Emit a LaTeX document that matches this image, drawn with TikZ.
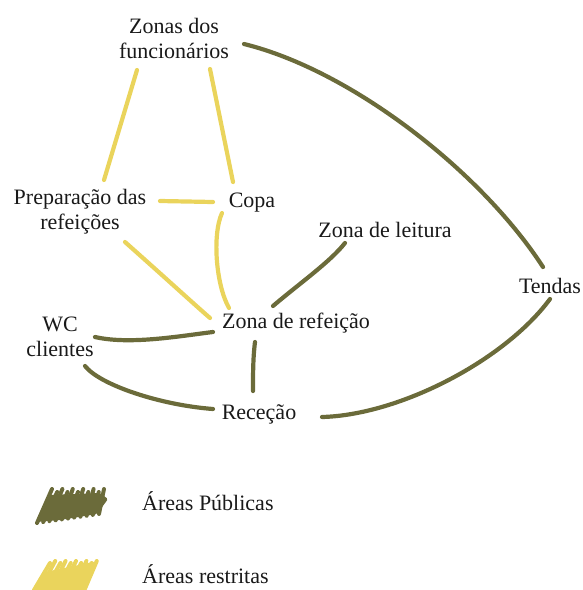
\documentclass[tikz,border=0pt]{standalone}
\usepackage{fontspec}
\setmainfont{Liberation Serif}
\usetikzlibrary{calc}
\definecolor{pub}{RGB}{107,107,58}
\definecolor{res}{RGB}{234,212,92}
\tikzset{
  lbl/.style={inner sep=0pt, font=\fontsize{22}{25}\selectfont, text=black!90},
  publine/.style={draw=pub, line width=4.2pt, line cap=round},
  resline/.style={draw=res, line width=4.2pt, line cap=round},
  scrib/.style={line width=4pt, line cap=round},
}
\begin{document}
\begin{tikzpicture}[x=1pt,y=-1pt]
\useasboundingbox (0,0) rectangle (582,590);
% nodes
\node[lbl, align=center] (zonas) at (174,38) {Zonas dos\\funcionários};
\node[lbl, align=center] (prep) at (80,212) {Preparação das\\refeições};
\node[lbl, anchor=base] (copa) at (252,207) {Copa};
\node[lbl, anchor=base] (leit) at (385,237) {Zona de leitura};
\node[lbl, anchor=base] (tend) at (550,293) {Tendas};
\node[lbl, anchor=base] (refe) at (296,328) {Zona de refeição};
\node[lbl, align=center] (wc) at (60,337) {WC\\clientes};
\node[lbl, anchor=base] (rece) at (259,419) {Receção};
\node[lbl, anchor=base west] (lpub) at (142,510) {Áreas Públicas};
\node[lbl, anchor=base west] (lres) at (142,583) {Áreas restritas};
% restricted connectors
\draw[resline] ($(zonas)+(-37,32)$) -- ($(prep)+(24,-32)$);
\draw[resline] ($(zonas)+(36,31)$) -- ($(copa.base)+(-19,-25)$);
\draw[resline] ($(prep)+(80,-11)$) -- ($(copa.base)+(-39,-5)$);
\draw[resline] ($(copa.base)+(-30,6)$) .. controls ($(copa.base)+(-40,28)$) and ($(refe.base)+(-80,-43)$) .. ($(refe.base)+(-67,-20)$);
\draw[resline] ($(prep)+(45,30)$) .. controls ($(prep)+(90,70)$) and ($(refe.base)+(-101,-23)$) .. ($(refe.base)+(-86,-10)$);
% public connectors
\draw[publine] ($(zonas)+(70,6)$) .. controls (350,70) and (480,170) .. ($(tend.base)+(-7,-26)$);
\draw[publine] ($(leit.base)+(-40,6)$) .. controls ($(leit.base)+(-55,25)$) and ($(refe.base)+(4,-45)$) .. ($(refe.base)+(-23,-22)$);
\draw[publine] ($(tend.base)+(0,6)$) .. controls (505,360) and (400,415) .. ($(rece.base)+(63,-2)$);
\draw[publine] ($(wc)+(35,0)$) .. controls ($(wc)+(70,8)$) and ($(refe.base)+(-116,8)$) .. ($(refe.base)+(-83,4)$);
\draw[publine] ($(wc)+(25,29)$) .. controls ($(wc)+(40,48)$) and ($(rece.base)+(-99,-14)$) .. ($(rece.base)+(-46,-10)$);
\draw[publine] ($(refe.base)+(-41,14)$) .. controls ($(refe.base)+(-43,30)$) and ($(rece.base)+(-6,-45)$) .. ($(rece.base)+(-6,-28)$);
% legend swatches (scribbles)
\fill[pub, rounded corners=1.5pt] (37,522) -- (50,495) -- (100,493) -- (108,499) -- (97,514) -- (60,520) -- cycle;
\foreach \i in {0,...,10} {
  \draw[pub, scrib] ({37+\i*6.2},{523-\i*0.9}) -- ({52+\i*5.2},{489+(mod(\i,2))*3});
}
\fill[res, rounded corners=1.5pt] (33,590) -- (45,572) -- (98,561) -- (92,576) -- (84,590) -- cycle;
\foreach \i in {0,...,9} {
  \draw[res, scrib] ({34+\i*5.6},{590}) -- ({50+\i*5.2},{563-(mod(\i,2))*2});
}
\end{tikzpicture}
\end{document}
